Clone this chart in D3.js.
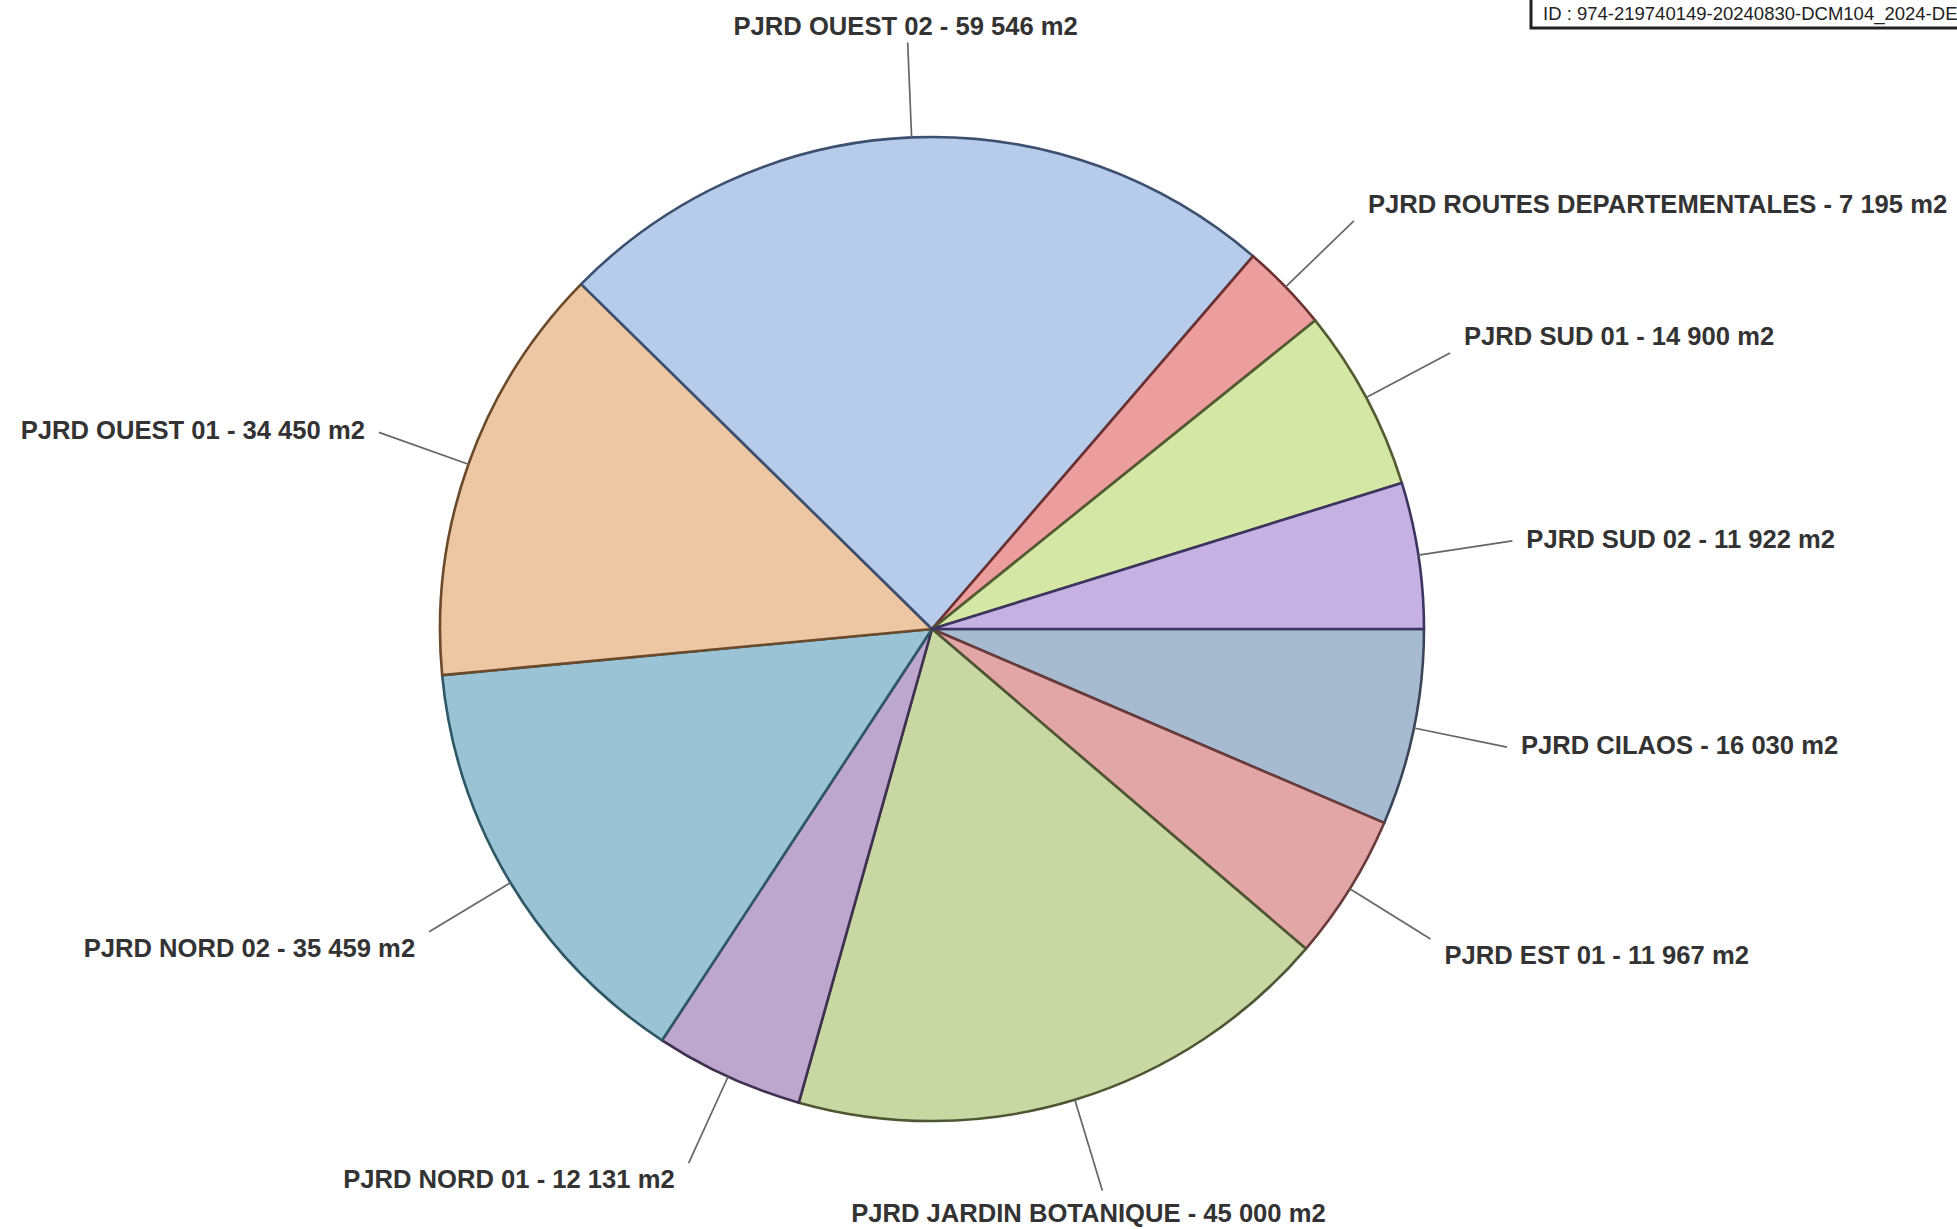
<!DOCTYPE html>
<html>
<head>
<meta charset="utf-8">
<script src="https://cdn.jsdelivr.net/npm/d3@7"></script>
<style>
  html, body { margin: 0; padding: 0; background: #ffffff; overflow: hidden; }
  svg { display: block; }
</style>
</head>
<body>
<script>
// ---- data ----
const categories = [
  "PJRD CILAOS", "PJRD EST 01", "PJRD JARDIN BOTANIQUE", "PJRD NORD 01", "PJRD NORD 02",
  "PJRD OUEST 01", "PJRD OUEST 02", "PJRD ROUTES DEPARTEMENTALES", "PJRD SUD 01", "PJRD SUD 02"
];
const values = [16030, 11967, 45000, 12131, 35459, 34450, 59546, 7195, 14900, 11922];
const fillColors = ["#a9bdd4", "#e7a9a9", "#cddca6", "#c1aad2", "#9dc8d9",
                    "#f1caa6", "#b9d0ee", "#f0a0a0", "#d9eba8", "#cab5e6"];
const strokeColors = ["#3a4658", "#6a3a3a", "#4d5733", "#3e3050", "#2f5866",
                      "#6b4a2a", "#3d5070", "#6b3030", "#525c32", "#3d3560"];
const idText = "ID : 974-219740149-20240830-DCM104_2024-DE";

// ---- layout ----
const W = 1957, H = 1229;
const cx = 932, cy = 629, R = 492;
const leaderLen = 95;

const svg = d3.select("body").append("svg").attr("width", W).attr("height", H);
svg.append("rect").attr("width", W).attr("height", H).attr("fill", "#ffffff");

const fmt = v => d3.format(",")(v).replace(/,/g, " ");
const data = categories.map((c, i) => ({ name: c, value: values[i], i }));

// d3.pie angles: 0 at 12 o'clock, clockwise. Reference starts at 3 o'clock.
const pie = d3.pie().sort(null).value(d => d.value)
  .startAngle(Math.PI / 2).endAngle(Math.PI / 2 + 2 * Math.PI);
const arcs = pie(data);
const arc = d3.arc().innerRadius(0).outerRadius(R);

const defs = svg.append("defs");
arcs.forEach((a, i) => {
  const g = defs.append("radialGradient").attr("id", "g" + i)
    .attr("gradientUnits", "userSpaceOnUse")
    .attr("cx", cx).attr("cy", cy).attr("r", R);
  const base = d3.color(fillColors[i]);
  g.append("stop").attr("offset", "0%").attr("stop-color", base.brighter(0.08));
  g.append("stop").attr("offset", "70%").attr("stop-color", base);
  g.append("stop").attr("offset", "100%").attr("stop-color", base.darker(0.05));
});

const gPie = svg.append("g").attr("transform", `translate(${cx},${cy})`);
gPie.selectAll("path.slice").data(arcs).enter().append("path")
  .attr("class", "slice")
  .attr("d", arc)
  .attr("fill", (d, i) => `url(#g${i})`)
  .attr("stroke", (d, i) => strokeColors[i])
  .attr("stroke-width", 2.6)
  .attr("stroke-linejoin", "round");

// ---- leader lines & labels ----
const gLab = svg.append("g").attr("transform", `translate(${cx},${cy})`);
arcs.forEach(a => {
  const mid = (a.startAngle + a.endAngle) / 2;
  const dx = Math.sin(mid), dy = -Math.cos(mid);
  const x0 = dx * R, y0 = dy * R;
  const x1 = dx * (R + leaderLen), y1 = dy * (R + leaderLen);
  gLab.append("line")
    .attr("x1", x0).attr("y1", y0).attr("x2", x1).attr("y2", y1)
    .attr("stroke", "#666666").attr("stroke-width", 1.7);

  let anchor, tx, ty;
  if (Math.abs(dx) < 0.35) {
    anchor = "middle";
    tx = dy < 0 ? x1 - 2 : x1 - 14;
    ty = dy < 0 ? y1 - 17 : y1 + 22;
  } else {
    anchor = dx > 0 ? "start" : "end";
    tx = x1 + (dx > 0 ? 14 : -14);
    ty = dy < -0.4 ? y1 - 17 : (dy > 0.4 ? y1 + 16 : y1 - 2);
  }
  gLab.append("text")
    .attr("x", tx).attr("y", ty)
    .attr("text-anchor", anchor)
    .attr("dominant-baseline", "central")
    .attr("font-family", "'Liberation Sans', Arial, sans-serif")
    .attr("font-weight", "bold")
    .attr("font-size", 25.6)
    .attr("fill", "#333333")
    .text(`${a.data.name} - ${fmt(a.data.value)} m2`);
});

// ---- ID stamp (top-right) ----
const idG = svg.append("g");
idG.append("rect")
  .attr("x", 1531).attr("y", -10).attr("width", 500).attr("height", 38)
  .attr("fill", "#ffffff").attr("stroke", "#222222").attr("stroke-width", 3);
idG.append("text")
  .attr("x", 1543).attr("y", 20)
  .attr("font-family", "'Liberation Sans', Arial, sans-serif")
  .attr("font-size", 18.5)
  .attr("fill", "#222222")
  .text(idText);
</script>
</body>
</html>
